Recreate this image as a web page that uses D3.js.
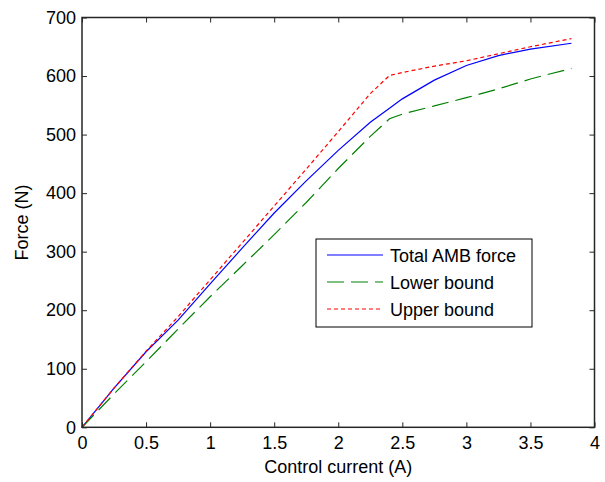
<!DOCTYPE html>
<html>
<head>
<meta charset="utf-8">
<script src="https://cdn.jsdelivr.net/npm/d3@7"></script>
<style>
  body { margin: 0; background: #fff; }
  text { font-family: "Liberation Sans", Arial, sans-serif; }
</style>
</head>
<body>
<div id="container"></div>
<script>
// control current (A)
const current = [0, 0.25, 0.5, 0.75, 1.0, 1.25, 1.5, 1.75, 2.0, 2.25, 2.4, 2.5, 2.75, 3.0, 3.25, 3.5, 3.82];
// force (N)
const totalForce = [0, 67, 129, 183, 245, 306, 366, 421, 473, 521, 545, 561, 593, 618, 635, 646, 656];
const lowerBound = [0, 57, 112, 168, 223, 276, 329, 384, 442, 497, 527, 535, 549, 563, 578, 595, 613];
const upperBound = [0, 67, 130, 189, 252, 315, 378, 441, 505, 570, 601, 606, 617, 626, 638, 650, 664];
const xTicks = [0, 0.5, 1, 1.5, 2, 2.5, 3, 3.5, 4];
const yTicks = [0, 100, 200, 300, 400, 500, 600, 700];
const seriesNames = ['Total AMB force', 'Lower bound', 'Upper bound'];

window.onload = function () {
	'use strict';
	let options = {
		width: 605,
		height: 482,
		left: 82,
		right: 594.5,
		top: 17.5,
		bottom: 427.3,
		font: 18,
	};

	let svg = d3.select('#container')
		.append('svg')
		.attr('width', options.width)
		.attr('height', options.height);

	let x = d3.scaleLinear().domain([0, 4]).range([options.left, options.right]);
	let y = d3.scaleLinear().domain([0, 700]).range([options.bottom, options.top]);

	let series = [
		{ name: seriesNames[0], values: totalForce, color: '#0000ff', dash: null },
		{ name: seriesNames[1], values: lowerBound, color: '#008000', dash: '17,7' },
		{ name: seriesNames[2], values: upperBound, color: '#ff0000', dash: '4,3' },
	];

	let line = d3.line()
		.x((d) => x(d[0]))
		.y((d) => y(d[1]));

	series.forEach((s) => {
		svg.append('path')
			.datum(current.map((c, i) => [c, s.values[i]]))
			.attr('d', line)
			.attr('fill', 'none')
			.attr('stroke', s.color)
			.attr('stroke-width', 1.2)
			.attr('stroke-dasharray', s.dash);
	});

	// axes, box style with inward ticks
	let axisColor = '#262626';
	function styleAxis(g, showLabels) {
		g.select('.domain').remove();
		g.selectAll('line').attr('stroke', axisColor);
		g.selectAll('text')
			.attr('fill', '#000')
			.style('font-size', options.font + 'px')
			.attr('opacity', showLabels ? 1 : 0);
	}

	svg.append('g')
		.attr('transform', `translate(0,${options.bottom})`)
		.call(d3.axisBottom(x).tickValues(xTicks).tickSize(-5).tickPadding(10).tickFormat(d3.format('')))
		.call((g) => styleAxis(g, true))
		.call((g) => g.selectAll('text').attr('dy', '0.71em').attr('y', 9));

	svg.append('g')
		.attr('transform', `translate(0,${options.top})`)
		.call(d3.axisTop(x).tickValues(xTicks).tickSize(-5).tickFormat(''))
		.call((g) => styleAxis(g, false));

	svg.append('g')
		.attr('transform', `translate(${options.left},0)`)
		.call(d3.axisLeft(y).tickValues(yTicks).tickSize(-5).tickPadding(6))
		.call((g) => styleAxis(g, true));

	svg.append('g')
		.attr('transform', `translate(${options.right},0)`)
		.call(d3.axisRight(y).tickValues(yTicks).tickSize(-5).tickFormat(''))
		.call((g) => styleAxis(g, false));

	svg.append('rect')
		.attr('x', options.left)
		.attr('y', options.top)
		.attr('width', options.right - options.left)
		.attr('height', options.bottom - options.top)
		.attr('fill', 'none')
		.attr('stroke', axisColor)
		.attr('stroke-width', 1.5);

	// axis titles
	svg.append('text')
		.attr('x', (options.left + options.right) / 2)
		.attr('y', 473)
		.attr('text-anchor', 'middle')
		.style('font-size', options.font + 'px')
		.text('Control current (A)');

	svg.append('text')
		.attr('transform', `translate(28,${(options.top + options.bottom) / 2}) rotate(-90)`)
		.attr('text-anchor', 'middle')
		.style('font-size', options.font + 'px')
		.text('Force (N)');

	// legend
	let legend = svg.append('g').attr('transform', 'translate(316,239)');
	legend.append('rect')
		.attr('width', 216)
		.attr('height', 88)
		.attr('fill', '#fff')
		.attr('stroke', '#000')
		.attr('stroke-width', 1);

	series.forEach((s, i) => {
		let ly = 16 + i * 27;
		legend.append('line')
			.attr('x1', 11)
			.attr('x2', 67)
			.attr('y1', ly)
			.attr('y2', ly)
			.attr('stroke', s.color)
			.attr('stroke-width', 1.2)
			.attr('stroke-dasharray', s.dash);
		legend.append('text')
			.attr('x', 74)
			.attr('y', ly + 6.5)
			.style('font-size', options.font + 'px')
			.text(s.name);
	});
};
</script>
</body>
</html>
